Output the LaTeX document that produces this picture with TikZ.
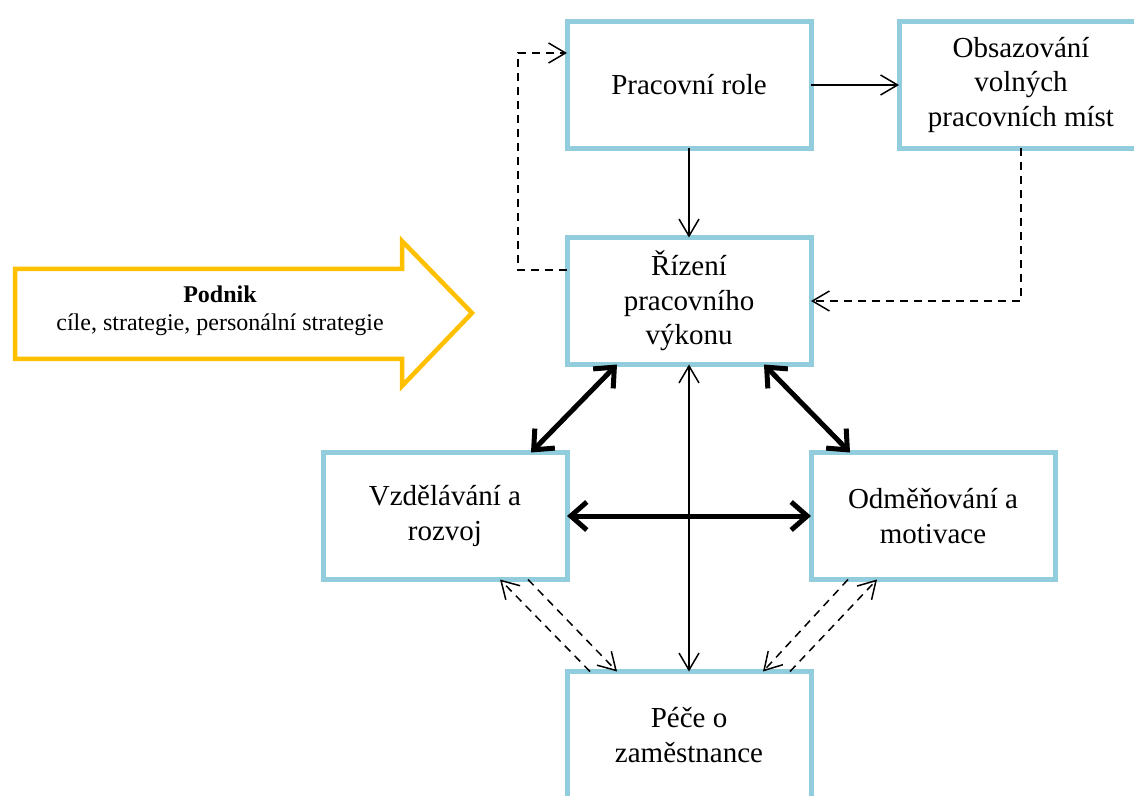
\documentclass[tikz,border=0pt]{standalone}
\usepackage{fontspec}
\setmainfont{Liberation Serif}
\usetikzlibrary{arrows.meta, positioning}
\definecolor{boxblue}{RGB}{146,205,221}
\definecolor{arrowgold}{RGB}{255,192,0}

\begin{document}
\begin{tikzpicture}[
  x=0.5pt, y=-0.5pt,
  node distance=44pt,
  box/.style={rectangle, draw=boxblue, line width=2.5pt, minimum width=122pt, minimum height=63.5pt, align=center, font=\fontsize{14.5}{17.25}\selectfont, outer sep=0pt, inner sep=2pt},
  arr/.style={->, >={Straight Barb[length=8.5pt, width=10pt]}, line width=0.75pt},
  dasharr/.style={arr, dash pattern=on 4pt off 3pt},
  bigarr/.style={<->, >={Straight Barb[length=8pt, width=14pt]}, line width=2.5pt}
]
\clip (0,0) rectangle (1134,796);

% company arrow
\draw[arrowgold, line width=2.25pt, line join=miter, fill=white]
  (15,269) -- (402,269) -- (402,241) -- (472,313) -- (402,386) -- (402,359) -- (15,359) -- cycle;
\node[align=center, font=\fontsize{12}{14}\selectfont] (podnik) at (220,311) {\textbf{Podnik}\\cíle, strategie, personální strategie};

% boxes
\node[box] (role) at (689,85) {Pracovní role};
\node[box, right=of role] (obs) {Obsazování\\volných\\pracovních míst};
\node[box, below=44.5pt of role] (rizeni) {Řízení\\pracovního\\výkonu};
\node[box, below left=44pt and 0pt of rizeni] (vzd) {Vzdělávání a\\rozvoj};
\node[box, below right=44pt and 0pt of rizeni] (odm) {Odměňování a\\motivace};
\node[box, below right=46pt and 0pt of vzd] (pece) {Péče o\\zaměstnance};

% connectors
\draw[arr] (role) -- (obs);
\draw[arr] (role) -- (rizeni);
\draw[dasharr] ([yshift=15.5pt]rizeni.west) -- ++(-49,0) |- ([yshift=16pt]role.west);
\draw[dasharr] (obs.south) |- (rizeni.east);
\draw[arr, <->] (rizeni) -- (pece);
\draw[bigarr] ([xshift=25pt]rizeni.south west) -- ([xshift=-18pt]vzd.north east);
\draw[bigarr] ([xshift=-23.5pt]rizeni.south east) -- ([xshift=19.5pt]odm.north west);
\draw[bigarr] (vzd) -- (odm);

\draw[dasharr] ([xshift=11.5pt]pece.north west) -- ([xshift=-33.5pt]vzd.south east);
\draw[dasharr] ([xshift=-19.5pt]vzd.south east) -- ([xshift=25pt]pece.north west);
\draw[dasharr] ([xshift=18.5pt]odm.south west) -- ([xshift=-24pt]pece.north east);
\draw[dasharr] ([xshift=-10.5pt]pece.north east) -- ([xshift=33pt]odm.south west);
\end{tikzpicture}
\end{document}
